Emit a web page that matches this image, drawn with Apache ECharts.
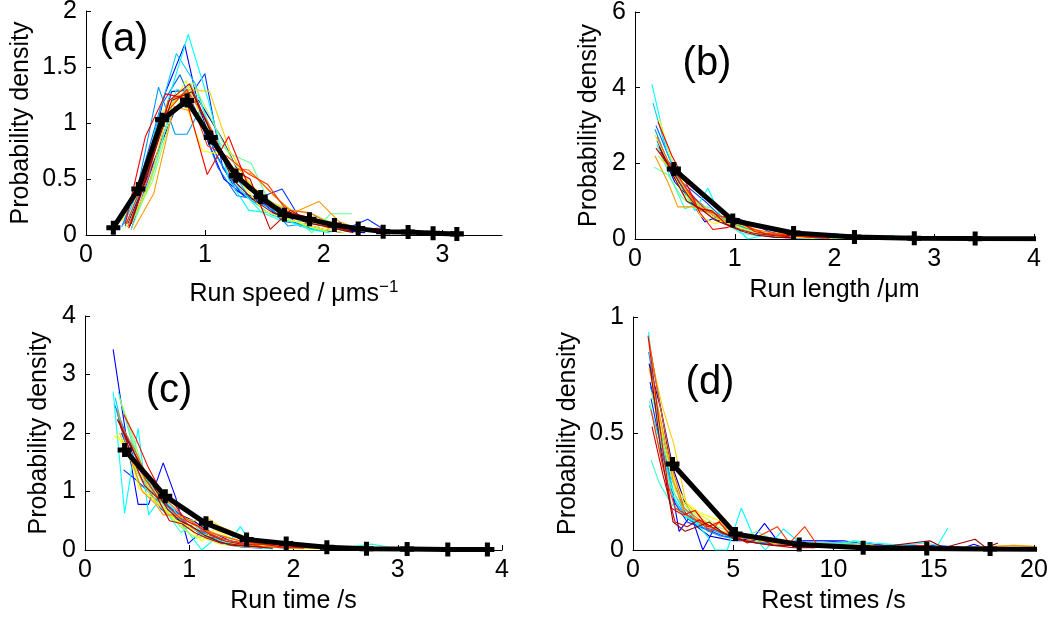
<!DOCTYPE html>
<html>
<head>
<meta charset="utf-8">
<script src="https://cdn.jsdelivr.net/npm/echarts@6/dist/echarts.min.js"></script>
<style>
  html, body { margin: 0; padding: 0; background: #fff; }
  #chart { width: 1060px; height: 621px; }
</style>
</head>
<body>
<div id="chart"></div>
<script>
// Colours of the individual trajectories (jet colour map, 20 steps)
const traceColors = [
  '#000099', '#0000CC', '#0000FF', '#0033FF', '#0066FF', '#0099FF', '#00CCFF', '#00FFFF', '#33FFCC', '#66FF99',
  '#99FF66', '#CCFF33', '#FFFF00', '#FFCC00', '#FF9900', '#FF6600', '#FF3300', '#FF0000', '#CC0000', '#990000'
];

// (a) run speed distributions, one [speed, density] list per trajectory
const speedTraces = [
  [[0.35,0.1],[0.55,0.6],[0.75,1.12],[0.95,1.2],[1.15,0.85],[1.35,0.42],[1.55,0.3],[1.75,0.18],[1.95,0.1],[2.15,0.05],[2.35,0.02]],
  [[0.37,0.08],[0.55,0.65],[0.72,1.28],[0.9,1.3],[1.08,0.75],[1.26,0.4],[1.44,0.3],[1.62,0.25],[1.8,0.08],[1.98,0.12],[2.16,0.04],[2.34,0.02]],
  [[0.33,0.08],[0.5,0.5],[0.66,1.25],[0.83,1.7],[1.0,0.9],[1.16,0.5],[1.33,0.35],[1.5,0.28],[1.66,0.12],[1.83,0.1],[2.0,0.05],[2.16,0.02]],
  [[0.38,0.05],[0.54,0.55],[0.7,1.05],[0.85,1.2],[1.0,1.44],[1.15,0.6],[1.3,0.38],[1.45,0.33],[1.65,0.41],[1.8,0.15],[2.0,0.08],[2.2,0.06],[2.37,0.14],[2.55,0.02]],
  [[0.31,0.09],[0.47,0.55],[0.63,1.15],[0.79,1.43],[0.95,1.05],[1.11,0.6],[1.27,0.35],[1.43,0.32],[1.59,0.2],[1.75,0.12],[1.91,0.05],[2.07,0.03]],
  [[0.3,0.07],[0.45,0.5],[0.61,1.32],[0.75,0.9],[0.85,0.9],[0.95,1.1],[1.1,0.7],[1.25,0.45],[1.4,0.3],[1.55,0.25],[1.7,0.08],[1.85,0.1],[2.0,0.03]],
  [[0.32,0.1],[0.48,0.5],[0.62,1.1],[0.76,1.62],[0.92,1.35],[1.08,0.8],[1.24,0.55],[1.4,0.3],[1.56,0.18],[1.72,0.12],[1.88,0.06],[2.04,0.03]],
  [[0.35,0.12],[0.52,0.55],[0.69,1.2],[0.86,1.79],[1.03,1.2],[1.2,0.5],[1.37,0.22],[1.54,0.2],[1.71,0.12],[1.88,0.05],[2.05,0.02]],
  [[0.4,0.15],[0.58,0.6],[0.76,1.3],[0.94,1.25],[1.12,0.75],[1.3,0.4],[1.48,0.2],[1.66,0.12],[1.84,0.12],[2.02,0.08],[2.2,0.03]],
  [[0.38,0.05],[0.55,0.5],[0.72,1.15],[0.88,1.35],[1.05,0.9],[1.22,0.72],[1.39,0.64],[1.56,0.25],[1.73,0.18],[1.9,0.02],[2.06,0.19],[2.24,0.19]],
  [[0.39,0.12],[0.56,0.48],[0.73,1.1],[0.9,1.36],[1.07,1.0],[1.24,0.65],[1.41,0.42],[1.58,0.28],[1.75,0.22],[1.92,0.18],[2.09,0.1],[2.26,0.04]],
  [[0.33,0.06],[0.5,0.55],[0.67,1.05],[0.84,1.38],[1.01,0.95],[1.18,0.65],[1.35,0.5],[1.52,0.3],[1.69,0.15],[1.86,0.08],[2.03,0.03]],
  [[0.3,0.12],[0.47,0.5],[0.64,1.1],[0.81,1.25],[0.98,0.75],[1.15,0.72],[1.32,0.45],[1.49,0.22],[1.66,0.15],[1.83,0.1],[2.0,0.05],[2.17,0.02]],
  [[0.36,0.08],[0.53,0.45],[0.7,1.15],[0.87,1.3],[1.04,1.28],[1.21,0.75],[1.38,0.45],[1.55,0.3],[1.72,0.2],[1.89,0.12],[2.06,0.05]],
  [[0.4,0.05],[0.57,0.37],[0.74,1.15],[0.9,1.1],[1.07,0.85],[1.24,0.6],[1.41,0.54],[1.58,0.35],[1.75,0.2],[1.96,0.3],[2.13,0.12],[2.3,0.05],[2.5,0.03]],
  [[0.35,0.07],[0.52,0.5],[0.69,1.2],[0.86,1.28],[1.03,1.0],[1.2,0.6],[1.37,0.58],[1.54,0.4],[1.71,0.22],[1.88,0.2],[2.05,0.1],[2.22,0.06],[2.4,0.03]],
  [[0.34,0.1],[0.51,0.55],[0.68,1.1],[0.85,1.3],[1.02,0.8],[1.19,0.7],[1.36,0.55],[1.53,0.45],[1.7,0.2],[1.87,0.1],[2.04,0.08],[2.21,0.03]],
  [[0.33,0.1],[0.5,0.88],[0.67,1.26],[0.84,1.22],[1.02,0.54],[1.2,0.88],[1.38,0.4],[1.55,0.25],[1.72,0.2],[1.9,0.15],[2.08,0.08],[2.26,0.04],[2.45,0.06],[2.62,0.03]],
  [[0.36,0.06],[0.53,0.6],[0.7,1.2],[0.87,1.35],[1.04,0.95],[1.21,0.6],[1.38,0.5],[1.55,0.05],[1.72,0.22],[1.89,0.12],[2.06,0.1],[2.23,0.03]],
  [[0.38,0.1],[0.55,0.65],[0.72,1.2],[0.89,1.28],[1.06,0.9],[1.23,0.5],[1.4,0.32],[1.57,0.2],[1.74,0.15],[1.91,0.1],[2.08,0.06],[2.25,0.02]]
];
const speedMean = [[0.23,0.065],[0.44,0.41],[0.64,1.03],[0.85,1.2],[1.05,0.87],[1.26,0.53],[1.47,0.34],[1.67,0.18],[1.88,0.14],[2.09,0.09],[2.29,0.057],[2.5,0.03],[2.71,0.027],[2.92,0.015],[3.12,0.01]];

// (b) run length distributions
const lengthTraces = [
  [[0.25,2.4],[0.4,1.6],[0.55,1.2],[0.7,0.8],[0.85,0.5],[1.0,0.4],[1.15,0.25],[1.3,0.15],[1.5,0.1],[1.7,0.05],[1.9,0.02]],
  [[0.26,2.3],[0.4,1.5],[0.54,1.1],[0.68,0.75],[0.82,0.5],[0.96,0.38],[1.1,0.25],[1.24,0.15],[1.4,0.1],[1.6,0.05],[1.8,0.03]],
  [[0.28,2.2],[0.42,1.8],[0.56,1.0],[0.7,0.45],[0.84,0.6],[0.98,0.35],[1.12,0.3],[1.26,0.1],[1.4,0.05],[1.6,0.03],[1.8,0.02]],
  [[0.22,2.6],[0.38,1.7],[0.54,1.35],[0.7,1.0],[0.86,0.6],[1.02,0.55],[1.18,0.4],[1.34,0.2],[1.5,0.1],[1.7,0.08],[1.9,0.03]],
  [[0.21,3.0],[0.35,2.1],[0.49,1.4],[0.63,1.0],[0.77,0.7],[0.91,0.5],[1.05,0.35],[1.19,0.2],[1.35,0.12],[1.55,0.06],[1.75,0.03],[2.0,0.02]],
  [[0.2,2.9],[0.35,1.9],[0.5,1.3],[0.65,0.9],[0.8,0.6],[0.95,0.45],[1.1,0.3],[1.25,0.1],[1.4,0.08],[1.6,0.05],[1.8,0.03],[2.0,0.02]],
  [[0.18,3.6],[0.32,2.3],[0.46,1.4],[0.6,0.9],[0.74,0.7],[0.88,0.5],[1.02,0.35],[1.16,0.2],[1.3,0.1],[1.5,0.05]],
  [[0.17,4.09],[0.3,2.6],[0.45,1.5],[0.6,0.75],[0.73,1.34],[0.86,0.6],[1.0,0.35],[1.13,0.0],[1.3,0.1],[1.5,0.05],[1.7,0.02],[2.0,0.15],[2.2,0.02]],
  [[0.22,2.5],[0.36,1.6],[0.5,0.8],[0.64,0.95],[0.78,0.7],[0.92,0.4],[1.06,0.15],[1.2,0.1],[1.4,0.08],[1.6,0.05],[1.8,0.03],[2.0,0.02],[2.2,0.02]],
  [[0.19,1.9],[0.33,1.7],[0.47,1.1],[0.61,0.8],[0.75,0.85],[0.9,0.45],[1.05,0.3],[1.2,0.2],[1.4,0.12],[1.6,0.08],[1.8,0.05],[2.0,0.04],[2.2,0.1],[2.4,0.05],[2.6,0.1]],
  [[0.23,2.2],[0.37,1.8],[0.51,1.05],[0.65,0.9],[0.79,0.7],[0.93,0.4],[1.07,0.3],[1.21,0.15],[1.4,0.1],[1.6,0.06],[1.8,0.04],[2.0,0.03],[2.2,0.02]],
  [[0.2,2.75],[0.34,2.0],[0.48,1.2],[0.62,0.9],[0.76,0.6],[0.9,0.45],[1.04,0.3],[1.18,0.2],[1.35,0.1],[1.55,0.05],[1.8,0.03]],
  [[0.24,3.2],[0.38,2.0],[0.52,1.3],[0.66,0.6],[0.8,0.4],[0.94,0.55],[1.08,0.35],[1.22,0.2],[1.4,0.12],[1.6,0.05],[1.8,0.02]],
  [[0.27,2.1],[0.41,1.75],[0.55,1.1],[0.69,0.85],[0.83,0.55],[0.97,0.4],[1.11,0.35],[1.25,0.2],[1.45,0.1],[1.65,0.08],[1.85,0.04]],
  [[0.2,2.2],[0.33,1.5],[0.43,0.85],[0.65,0.85],[0.8,0.6],[0.95,0.45],[1.1,0.45],[1.25,0.35],[1.4,0.2],[1.6,0.1],[1.8,0.05],[2.0,0.03]],
  [[0.22,2.7],[0.36,1.9],[0.5,1.4],[0.64,0.75],[0.78,0.7],[0.92,0.55],[1.06,0.4],[1.2,0.25],[1.4,0.15],[1.6,0.1],[1.8,0.06],[2.0,0.04]],
  [[0.25,2.3],[0.4,1.8],[0.55,1.2],[0.7,0.8],[0.85,0.6],[1.0,0.5],[1.15,0.3],[1.3,0.15],[1.5,0.12],[1.7,0.06],[1.9,0.03]],
  [[0.23,3.1],[0.37,2.2],[0.51,1.5],[0.65,0.7],[0.78,0.25],[0.92,0.3],[1.06,0.45],[1.2,0.2],[1.35,0.12],[1.55,0.08],[1.75,0.05],[1.95,0.02]],
  [[0.21,2.4],[0.35,1.9],[0.49,1.3],[0.63,0.8],[0.77,0.75],[0.91,0.4],[1.05,0.25],[1.19,0.15],[1.35,0.1],[1.55,0.06]],
  [[0.24,2.45],[0.38,1.7],[0.52,1.0],[0.66,0.8],[0.8,0.5],[0.94,0.35],[1.08,0.2],[1.22,0.1],[1.4,0.05],[1.6,0.03]]
];
const lengthMean = [[0.39,1.85],[0.98,0.49],[1.59,0.16],[2.2,0.05],[2.8,0.02],[3.41,0.01],[4.02,0.005]];

// (c) run time distributions
const timeTraces = [
  [[0.32,2.25],[0.44,1.8],[0.56,1.3],[0.68,1.0],[0.8,0.75],[0.92,0.6],[1.04,0.5],[1.16,0.35],[1.28,0.25],[1.4,0.15],[1.6,0.1],[1.8,0.05],[2.0,0.03]],
  [[0.35,2.0],[0.47,1.5],[0.59,1.2],[0.71,0.85],[0.83,0.7],[0.95,0.45],[1.07,0.35],[1.19,0.25],[1.32,0.15],[1.5,0.08],[1.7,0.04]],
  [[0.27,3.43],[0.39,2.0],[0.51,0.78],[0.61,0.78],[0.75,1.49],[0.87,0.9],[0.99,0.11],[1.11,0.3],[1.23,0.25],[1.4,0.12],[1.6,0.05],[1.8,0.1],[2.0,0.03]],
  [[0.37,1.37],[0.49,1.2],[0.61,1.0],[0.73,0.7],[0.85,0.55],[0.97,0.45],[1.09,0.3],[1.21,0.2],[1.33,0.1],[1.5,0.05],[1.7,0.03]],
  [[0.28,2.5],[0.4,1.95],[0.52,1.3],[0.64,0.9],[0.76,0.8],[0.88,0.65],[1.0,0.4],[1.12,0.3],[1.25,0.18],[1.4,0.1],[1.6,0.05],[1.8,0.03]],
  [[0.3,2.4],[0.42,1.6],[0.54,1.2],[0.66,0.9],[0.78,0.6],[0.9,0.55],[1.02,0.5],[1.14,0.3],[1.3,0.2],[1.5,0.1],[1.7,0.08],[1.9,0.03]],
  [[0.29,2.6],[0.41,1.7],[0.53,1.1],[0.65,1.0],[0.77,0.75],[0.89,0.55],[1.01,0.4],[1.13,0.25],[1.3,0.15],[1.5,0.08],[1.7,0.05]],
  [[0.27,2.71],[0.38,0.63],[0.51,2.08],[0.61,0.6],[0.73,0.9],[0.85,0.7],[0.97,0.35],[1.12,0.0],[1.25,0.2],[1.37,0.1],[1.49,0.4],[1.62,0.05],[1.8,0.02]],
  [[0.32,2.7],[0.44,1.9],[0.56,1.3],[0.68,0.9],[0.8,0.6],[0.92,0.3],[1.04,0.45],[1.16,0.2],[1.3,0.15],[1.5,0.1],[1.7,0.05],[1.9,0.04],[2.1,0.03],[2.4,0.02],[2.75,0.1],[3.0,0.02]],
  [[0.35,2.5],[0.47,1.8],[0.59,1.1],[0.71,0.95],[0.83,0.55],[0.95,0.35],[1.07,0.2],[1.2,0.3],[1.35,0.15],[1.5,0.08],[1.7,0.05]],
  [[0.33,2.6],[0.45,2.0],[0.57,1.3],[0.69,0.95],[0.81,0.6],[0.93,0.4],[1.05,0.35],[1.17,0.25],[1.3,0.2],[1.45,0.1],[1.65,0.06],[1.85,0.04],[2.1,0.02]],
  [[0.3,2.0],[0.42,1.6],[0.54,1.2],[0.66,0.85],[0.78,0.65],[0.9,0.45],[1.02,0.25],[1.14,0.2],[1.3,0.1],[1.5,0.06],[1.7,0.04]],
  [[0.28,1.95],[0.4,1.8],[0.52,1.05],[0.64,0.9],[0.76,0.7],[0.88,0.5],[1.0,0.4],[1.12,0.15],[1.24,0.35],[1.4,0.2],[1.6,0.1],[1.8,0.05],[2.0,0.03],[2.3,0.02]],
  [[0.33,2.0],[0.45,1.5],[0.57,1.2],[0.69,0.8],[0.81,0.6],[0.93,0.55],[1.05,0.5],[1.17,0.55],[1.3,0.4],[1.5,0.25],[1.7,0.1],[1.9,0.05],[2.1,0.04]],
  [[0.31,2.4],[0.43,1.6],[0.55,1.0],[0.67,0.8],[0.75,0.6],[0.9,0.6],[1.02,0.45],[1.14,0.35],[1.3,0.25],[1.5,0.15],[1.7,0.1],[1.9,0.06],[2.2,0.04],[2.5,0.03]],
  [[0.36,2.1],[0.48,1.7],[0.6,1.25],[0.72,0.95],[0.84,0.75],[0.96,0.55],[1.08,0.42],[1.2,0.3],[1.35,0.22],[1.5,0.15],[1.7,0.1],[1.9,0.07],[2.1,0.05],[2.4,0.03],[2.7,0.02]],
  [[0.34,2.1],[0.46,1.7],[0.58,1.2],[0.7,0.9],[0.82,0.7],[0.94,0.5],[1.06,0.35],[1.18,0.3],[1.3,0.2],[1.5,0.12],[1.7,0.06],[1.9,0.04],[2.1,0.03]],
  [[0.37,2.32],[0.49,1.9],[0.61,1.4],[0.73,1.0],[0.85,0.8],[0.97,0.5],[1.09,0.4],[1.21,0.25],[1.35,0.15],[1.5,0.1],[1.7,0.1],[1.9,0.05],[2.1,0.04],[2.4,0.03],[2.7,0.02]],
  [[0.33,2.2],[0.45,1.6],[0.57,1.1],[0.69,0.9],[0.81,0.5],[0.93,0.45],[1.05,0.3],[1.17,0.2],[1.3,0.12],[1.5,0.08],[1.7,0.05]],
  [[0.31,2.23],[0.43,1.8],[0.55,1.4],[0.67,1.05],[0.79,0.7],[0.91,0.5],[1.03,0.4],[1.15,0.25],[1.28,0.15],[1.4,0.08],[1.6,0.06],[1.8,0.03]]
];
const timeMean = [[0.38,1.71],[0.77,0.92],[1.16,0.456],[1.55,0.18],[1.93,0.11],[2.32,0.046],[2.7,0.02],[3.09,0.015],[3.48,0.01],[3.86,0.01]];

// (d) rest time distributions
const restTraces = [
  [[0.8,0.8],[1.4,0.6],[2.0,0.35],[2.6,0.2],[3.2,0.12],[3.8,0.1],[4.4,0.08],[5.0,0.06],[5.6,0.05],[6.2,0.04],[7.0,0.03],[8.0,0.02],[9.0,0.02],[10.0,0.01],[11.0,0.02]],
  [[0.82,0.88],[1.4,0.6],[2.0,0.3],[2.6,0.16],[3.2,0.1],[3.8,0.06],[4.4,0.05],[5.0,0.04],[5.6,0.04],[6.2,0.03],[7.0,0.03],[8.0,0.02],[9.0,0.02],[10.0,0.01]],
  [[0.85,0.72],[1.45,0.5],[2.3,0.08],[2.9,0.15],[3.48,0.0],[4.1,0.1],[4.7,0.06],[5.3,0.05],[5.9,0.04],[6.56,0.114],[7.2,0.04],[7.8,0.03],[8.6,0.04],[9.5,0.04],[10.5,0.04],[11.2,0.03],[12.5,0.02],[14.0,0.01],[15.0,0.02],[16.5,0.01],[17.0,0.025],[17.5,0.01]],
  [[0.9,0.65],[1.5,0.4],[2.1,0.2],[2.7,0.12],[3.3,0.1],[3.9,0.08],[4.5,0.06],[5.1,0.05],[5.7,0.04],[6.3,0.03],[7.2,0.03],[8.2,0.04],[9.5,0.04],[11.0,0.03],[12.5,0.02],[14.0,0.02],[16.0,0.01],[18.0,0.01],[20.0,0.01]],
  [[0.88,0.7],[1.45,0.48],[2.05,0.22],[2.65,0.14],[3.25,0.1],[3.85,0.09],[4.45,0.07],[5.05,0.06],[5.65,0.05],[6.25,0.04],[7.0,0.03],[8.0,0.03],[9.5,0.03],[11.0,0.03],[12.0,0.02]],
  [[0.78,0.85],[1.35,0.55],[1.95,0.3],[2.55,0.18],[3.15,0.12],[3.75,0.08],[4.35,0.06],[4.95,0.05],[5.55,0.04],[6.2,0.03],[7.0,0.02],[8.0,0.02],[9.0,0.01]],
  [[0.82,0.62],[1.42,0.45],[2.02,0.25],[2.62,0.15],[3.22,0.12],[3.82,0.1],[4.42,0.07],[5.02,0.05],[5.62,0.05],[6.22,0.03],[7.0,0.03],[8.0,0.02],[9.0,0.02],[10.0,0.02],[11.0,0.02],[12.0,0.01],[13.0,0.02],[14.0,0.01]],
  [[0.78,0.936],[1.3,0.5],[1.9,0.25],[2.5,0.15],[3.1,0.12],[3.7,0.06],[4.1,0.0],[4.7,0.0],[5.4,0.18],[6.0,0.06],[6.6,0.0],[7.5,0.09],[8.2,0.04],[9.0,0.02],[10.0,0.02],[11.0,0.04],[12.0,0.03],[13.5,0.02],[14.5,0.03],[15.2,0.02],[15.7,0.093]],
  [[0.9,0.386],[1.32,0.286],[1.9,0.2],[2.5,0.15],[3.1,0.12],[3.7,0.1],[4.3,0.08],[4.9,0.06],[5.5,0.05],[6.1,0.05],[6.7,0.04],[7.5,0.03],[8.5,0.02],[9.5,0.02],[10.5,0.025],[11.0,0.04],[12.0,0.02]],
  [[0.82,0.64],[1.4,0.4],[2.0,0.25],[2.6,0.17],[3.2,0.13],[3.8,0.1],[4.4,0.08],[5.0,0.07],[5.6,0.06],[6.2,0.08],[6.8,0.05],[7.5,0.04],[8.5,0.03],[9.5,0.03],[10.9,0.03],[12.0,0.02]],
  [[0.92,0.68],[1.5,0.45],[2.1,0.26],[2.7,0.18],[3.3,0.14],[3.9,0.11],[4.5,0.09],[5.1,0.07],[5.7,0.06],[6.3,0.05],[7.0,0.04],[8.0,0.03],[9.0,0.03],[10.5,0.02]],
  [[0.98,0.73],[1.55,0.45],[2.15,0.25],[2.75,0.18],[3.35,0.15],[3.95,0.12],[4.55,0.1],[5.15,0.08],[5.75,0.06],[6.35,0.05],[7.0,0.04],[8.0,0.03],[9.0,0.02],[10.0,0.02]],
  [[0.95,0.72],[1.5,0.5],[2.1,0.28],[2.7,0.2],[3.3,0.16],[3.9,0.14],[4.5,0.12],[5.1,0.08],[5.7,0.05],[6.3,0.04],[7.0,0.03],[8.0,0.02],[9.0,0.02],[10.0,0.01]],
  [[0.85,0.85],[1.45,0.62],[2.05,0.45],[2.65,0.2],[3.25,0.15],[3.85,0.1],[4.45,0.08],[5.05,0.06],[5.65,0.05],[6.3,0.04],[7.0,0.03],[8.0,0.02],[10.0,0.02],[12.0,0.02],[14.0,0.01],[16.0,0.01],[18.0,0.015],[19.0,0.02],[20.0,0.015]],
  [[0.8,0.78],[1.4,0.55],[2.0,0.3],[2.6,0.15],[3.2,0.13],[3.8,0.1],[4.4,0.12],[5.0,0.05],[5.6,0.04],[6.2,0.05],[7.0,0.03],[8.0,0.025],[9.0,0.02],[11.0,0.02],[13.0,0.015],[15.0,0.01],[17.0,0.01],[19.0,0.02],[20.0,0.015]],
  [[0.8,0.9],[1.35,0.62],[1.95,0.35],[2.55,0.18],[3.15,0.14],[3.75,0.1],[4.35,0.08],[4.95,0.06],[5.55,0.05],[6.2,0.05],[7.0,0.04],[8.0,0.03],[9.0,0.02],[10.0,0.02],[12.0,0.02]],
  [[0.9,0.6],[1.5,0.35],[2.1,0.18],[2.7,0.15],[3.3,0.12],[3.9,0.08],[4.48,0.14],[5.1,0.08],[5.7,0.05],[6.3,0.06],[7.2,0.1],[7.8,0.03],[8.57,0.1],[9.2,0.02],[10.0,0.02]],
  [[0.75,0.92],[1.3,0.55],[1.9,0.18],[2.5,0.15],[3.1,0.17],[3.7,0.1],[4.3,0.12],[4.9,0.06],[5.5,0.04],[6.1,0.03],[7.0,0.02],[8.0,0.02],[9.0,0.01],[10.5,0.02],[12.0,0.01],[14.7,0.02],[15.5,0.01]],
  [[0.95,0.53],[1.5,0.32],[2.1,0.12],[2.7,0.1],[3.3,0.13],[3.9,0.1],[4.5,0.07],[5.1,0.06],[5.7,0.03],[6.3,0.05],[7.0,0.02],[8.0,0.01],[9.0,0.01]],
  [[0.85,0.79],[1.4,0.42],[2.0,0.12],[2.6,0.08],[3.2,0.1],[3.8,0.12],[4.4,0.08],[5.0,0.05],[5.6,0.04],[6.2,0.03],[7.0,0.02],[9.0,0.02],[11.0,0.01],[13.0,0.02],[14.8,0.04],[15.5,0.01],[17.06,0.046],[17.6,0.01],[18.2,0.03]]
];
const restMean = [[1.97,0.369],[5.11,0.069],[8.29,0.024],[11.48,0.01],[14.65,0.006],[17.81,0.004],[20.98,0.003]];

// Tick values of each axis
const speedTicksX = [0, 1, 2, 3];
const speedTicksY = [0, 0.5, 1, 1.5, 2];
const lengthTicksX = [0, 1, 2, 3, 4];
const lengthTicksY = [0, 2, 4, 6];
const timeTicksX = [0, 1, 2, 3, 4];
const timeTicksY = [0, 1, 2, 3, 4];
const restTicksX = [0, 5, 10, 15, 20];
const restTicksY = [0, 0.5, 1];

// Axis titles and panel tags
const xTitles = ['{t|Run speed / \u03BCms}{s|\u22121}', 'Run length /\u03BCm', 'Run time /s', 'Rest times /s'];
const yTitle = 'Probability density';
const panelTags = ['(a)', '(b)', '(c)', '(d)'];

const FONT = '"Liberation Sans", Arial, Helvetica, sans-serif';
// bold "+" marker of the averaged curve
const plusPath = 'path://M3.2,0H6.8V3.2H10V6.8H6.8V10H3.2V6.8H0V3.2H3.2Z';

const panels = [
  { traces: speedTraces, mean: speedMean, xt: speedTicksX, yt: speedTicksY, xMax: 3.5, xInt: 1, yInt: 0.5,
    grid: { left: 86, top: 11, right: 558, bottom: 386 }, yGap: 52, xGap: 44, tag: { x: 124, y: 40 } },
  { traces: lengthTraces, mean: lengthMean, xt: lengthTicksX, yt: lengthTicksY, xMax: 4, xInt: 1, yInt: 2,
    grid: { left: 635, top: 12, right: 26, bottom: 382 }, yGap: 33, xGap: 39, tag: { x: 707, y: 64 } },
  { traces: timeTraces, mean: timeMean, xt: timeTicksX, yt: timeTicksY, xMax: 4, xInt: 1, yInt: 1,
    grid: { left: 85, top: 316, right: 558, bottom: 71 }, yGap: 33, xGap: 39, tag: { x: 169, y: 391 } },
  { traces: restTraces, mean: restMean, xt: restTicksX, yt: restTicksY, xMax: 20, xInt: 5, yInt: 0.5,
    grid: { left: 633, top: 317, right: 26, bottom: 71 }, yGap: 52, xGap: 39, tag: { x: 710, y: 383 } }
];

const grids = [], xAxes = [], yAxes = [], series = [], graphics = [];

panels.forEach((p, i) => {
  grids.push(Object.assign({ outerBoundsMode: 'none', containLabel: false }, p.grid));
  const keep = (vals) => (v) => vals.some(t => Math.abs(t - v) < 1e-9) ? String(v) : '';
  xAxes.push({
    type: 'value', gridIndex: i, min: 0, max: p.xMax, interval: p.xInt,
    splitLine: { show: false },
    axisLine: { show: true, onZero: false, lineStyle: { color: '#000', width: 1 } },
    axisTick: { show: true, inside: true, length: 5, lineStyle: { color: '#000' }, customValues: p.xt },
    axisLabel: { color: '#000', fontSize: 25, fontFamily: FONT, margin: 8, customValues: p.xt, formatter: keep(p.xt) },
    name: xTitles[i], nameLocation: 'middle', nameGap: p.xGap,
    nameTextStyle: {
      color: '#000', fontSize: 25, fontFamily: FONT,
      rich: {
        t: { fontSize: 25, fontFamily: FONT, color: '#000', lineHeight: 30 },
        s: { fontSize: 17, fontFamily: FONT, color: '#000', lineHeight: 17, verticalAlign: 'top' }
      }
    }
  });
  yAxes.push({
    type: 'value', gridIndex: i, min: 0, max: p.yt[p.yt.length - 1], interval: p.yInt,
    splitLine: { show: false },
    axisLine: { show: true, onZero: false, lineStyle: { color: '#000', width: 1 } },
    axisTick: { show: true, inside: true, length: 5, lineStyle: { color: '#000' } },
    axisLabel: { color: '#000', fontSize: 25, fontFamily: FONT, margin: 9 },
    name: yTitle, nameLocation: 'middle', nameGap: p.yGap,
    nameTextStyle: { color: '#000', fontSize: 25, fontFamily: FONT }
  });
  p.traces.forEach((tr, k) => {
    series.push({
      type: 'line', xAxisIndex: i, yAxisIndex: i, data: tr, showSymbol: false, silent: true,
      clip: true, lineStyle: { color: traceColors[k % traceColors.length], width: 1.1 }, z: 2
    });
  });
  series.push({
    type: 'line', xAxisIndex: i, yAxisIndex: i, data: p.mean, clip: true, silent: true,
    symbol: plusPath, symbolSize: 14, showSymbol: true,
    itemStyle: { color: '#000' },
    lineStyle: { color: '#000', width: 5 }, z: 5
  });
  graphics.push({
    type: 'text', x: p.tag.x, y: p.tag.y, z: 10,
    style: { text: panelTags[i], fill: '#000', fontSize: 40, fontFamily: FONT, align: 'center', verticalAlign: 'middle' }
  });
});

const chart = echarts.init(document.getElementById('chart'), null, { renderer: 'canvas' });
chart.setOption({
  animation: false,
  backgroundColor: '#fff',
  grid: grids,
  xAxis: xAxes,
  yAxis: yAxes,
  series: series,
  graphic: graphics
});
</script>
</body>
</html>
